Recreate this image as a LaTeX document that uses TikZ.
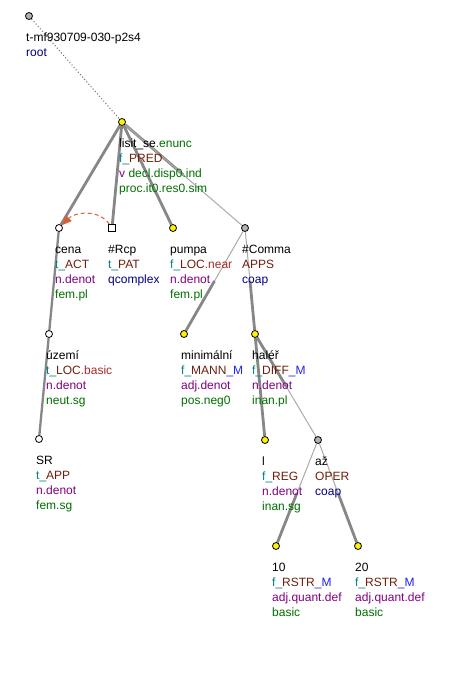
\documentclass[tikz,border=0pt]{standalone}
\usepackage{fontspec}
\setmainfont{Liberation Sans}
\usetikzlibrary{calc,arrows.meta,backgrounds}
\definecolor{cgreen}{RGB}{0,110,0}
\definecolor{cteal}{RGB}{0,128,128}
\definecolor{cfunc}{RGB}{110,30,10}
\definecolor{csub}{RGB}{165,42,42}
\definecolor{cblue}{RGB}{30,30,255}
\definecolor{cpurple}{RGB}{128,0,128}
\definecolor{cnavy}{RGB}{0,0,128}
\definecolor{cedge}{RGB}{135,135,135}
\definecolor{clight}{RGB}{170,170,170}
\definecolor{ccoref}{RGB}{215,95,55}
\newcommand{\G}[1]{\textcolor{cgreen}{#1}}
\newcommand{\T}[1]{\textcolor{cteal}{#1}}
\newcommand{\F}[1]{\textcolor{cfunc}{#1}}
\newcommand{\Sb}[1]{\textcolor{csub}{#1}}
\newcommand{\B}[1]{\textcolor{cblue}{#1}}
\newcommand{\Pu}[1]{\textcolor{cpurple}{#1}}
\newcommand{\Nv}[1]{\textcolor{cnavy}{#1}}
\newcommand{\Fl}{\rule{0pt}{10pt}}
\tikzset{
  tnode/.style={circle,draw=black,line width=0.8pt,inner sep=0pt,minimum size=7pt},
  yel/.style={tnode,fill=yellow},
  gry/.style={tnode,fill=black!30},
  wht/.style={tnode,fill=white},
  sqr/.style={rectangle,draw=black,line width=0.8pt,fill=white,inner sep=0pt,minimum size=7pt},
  lbl/.style={anchor=north west,inner sep=0pt,align=left,font=\fontsize{12}{15.2}\selectfont},
  heavy/.style={draw=cedge,line width=2.8pt},
  light/.style={draw=clight,line width=1pt},
  rootedge/.style={draw=black!55,line width=1.1pt,dash pattern=on 1pt off 2.2pt},
  coref/.style={draw=ccoref,line width=1pt,dash pattern=on 4pt off 3pt,-{Triangle[length=10pt,width=8pt]}},
}
\begin{document}
\begin{tikzpicture}[x=1pt,y=-1pt]
\useasboundingbox (0,0) rectangle (454,700);
% tree nodes
\node[gry] (root) at (29,16) {};
\node[yel] (lisit) at (122,122) {};
\node[wht] (cena) at (59,228) {};
\node[sqr] (rcp) at (112,228) {};
\node[yel] (pumpa) at (173,228) {};
\node[gry] (comma) at (245,228) {};
\node[wht] (uzemi) at (49,334) {};
\node[yel] (minim) at (184,334) {};
\node[yel] (haler) at (255,334) {};
\node[wht] (sr) at (39,439) {};
\node[yel] (lnode) at (265,440) {};
\node[gry] (az) at (318,440) {};
\node[yel] (ten) at (276,546) {};
\node[yel] (twenty) at (358,546) {};
% labels
\node[lbl] (root-l) at ($(root)+(-3,15)$) {\Fl t-mf930709-030-p2s4\\\Nv{root}};
\node[lbl] (lisit-l) at ($(lisit)+(-3,15)$) {\Fl lisit\_se\G{.enunc}\\\T{f\_}\F{PRED}\\\Pu{v} \G{decl.disp0.ind}\\\G{proc.it0.res0.sim}};
\node[lbl] (cena-l) at ($(cena)+(-4,15)$) {\Fl cena\\\T{t\_}\F{ACT}\\\Pu{n.denot}\\\G{fem.pl}};
\node[lbl] (rcp-l) at ($(rcp)+(-4,15)$) {\Fl\#Rcp\\\T{t\_}\F{PAT}\\\Nv{qcomplex}};
\node[lbl] (pumpa-l) at ($(pumpa)+(-3,15)$) {\Fl pumpa\\\T{f\_}\F{LOC}\Sb{.near}\\\Pu{n.denot}\\\G{fem.pl}};
\node[lbl] (comma-l) at ($(comma)+(-3,15)$) {\Fl\#Comma\\\F{APPS}\\\Nv{coap}};
\node[lbl] (uzemi-l) at ($(uzemi)+(-3,15)$) {\Fl území\\\T{t\_}\F{LOC}\Sb{.basic}\\\Pu{n.denot}\\\G{neut.sg}};
\node[lbl] (minim-l) at ($(minim)+(-3,15)$) {\Fl minimální\\\T{f\_}\F{MANN}\B{\_M}\\\Pu{adj.denot}\\\G{pos.neg0}};
\node[lbl] (haler-l) at ($(haler)+(-3,15)$) {\Fl haléř\\\T{f\_}\F{DIFF}\B{\_M}\\\Pu{n.denot}\\\G{inan.pl}};
\node[lbl] (sr-l) at ($(sr)+(-3,15)$) {\Fl SR\\\T{t\_}\F{APP}\\\Pu{n.denot}\\\G{fem.sg}};
\node[lbl] (lnode-l) at ($(lnode)+(-3,15)$) {\Fl l\\\T{f\_}\F{REG}\\\Pu{n.denot}\\\G{inan.sg}};
\node[lbl] (az-l) at ($(az)+(-3,15)$) {\Fl až\\\F{OPER}\\\Nv{coap}};
\node[lbl] (ten-l) at ($(ten)+(-4,15)$) {\Fl 10\\\T{f\_}\F{RSTR}\B{\_M}\\\Pu{adj.quant.def}\\\G{basic}};
\node[lbl] (twenty-l) at ($(twenty)+(-3,15)$) {\Fl 20\\\T{f\_}\F{RSTR}\B{\_M}\\\Pu{adj.quant.def}\\\G{basic}};
% edges
\begin{pgfonlayer}{background}
\draw[rootedge] (root) -- (lisit);
\draw[heavy] (lisit) -- (cena);
\draw[heavy] (lisit) -- (rcp);
\draw[heavy] (lisit) -- (pumpa);
\coordinate (m1) at ($(lisit)!0.5!(comma)$);
\draw[heavy] (lisit) -- (m1);
\draw[light] (lisit) -- (comma);
\draw[heavy,line width=2.3pt] (cena) -- (uzemi);
\draw[heavy,line width=2.3pt] (uzemi) -- (sr);
\coordinate (m2) at ($(comma)!0.5!(minim)$);
\draw[light] (comma) -- (minim);
\draw[heavy] (m2) -- (minim);
\coordinate (m3) at ($(comma)!0.5!(haler)$);
\draw[light] (comma) -- (haler);
\draw[heavy] (m3) -- (haler);
\draw[heavy] (haler) -- (lnode);
\coordinate (m4) at ($(haler)!0.5!(az)$);
\draw[light] (haler) -- (az);
\draw[heavy] (haler) -- (m4);
\coordinate (m5) at ($(az)!0.5!(ten)$);
\draw[light] (az) -- (ten);
\draw[heavy] (m5) -- (ten);
\coordinate (m6) at ($(az)!0.5!(twenty)$);
\draw[light] (az) -- (twenty);
\draw[heavy] (m6) -- (twenty);
\end{pgfonlayer}
\draw[coref] (rcp) to[out=125,in=45] (cena);
\end{tikzpicture}
\end{document}
